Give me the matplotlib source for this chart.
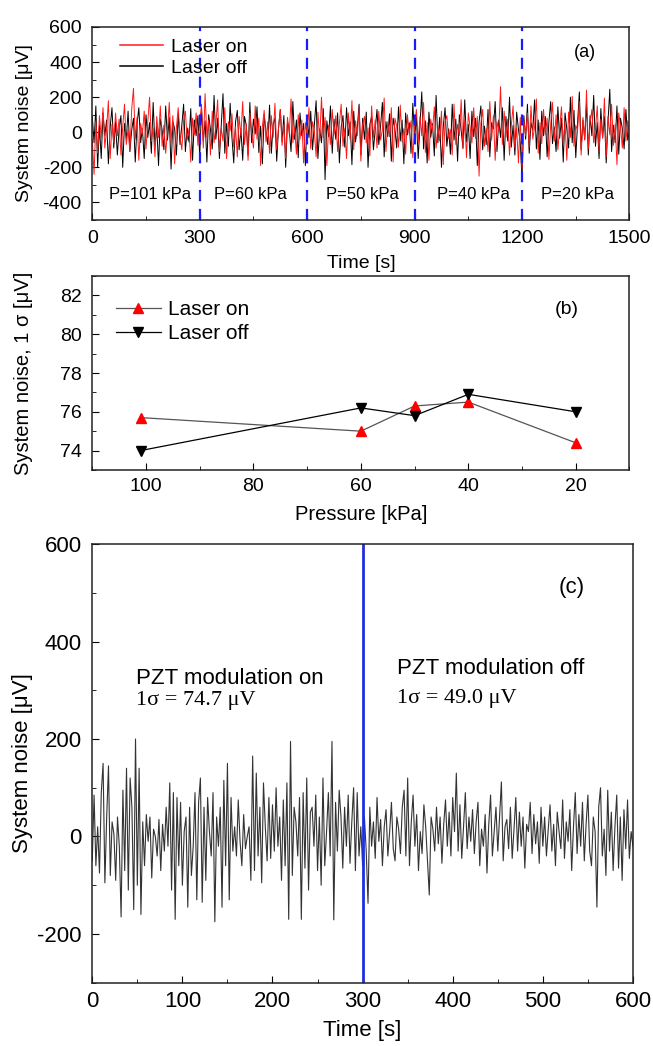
import matplotlib
matplotlib.use('Agg')
import matplotlib.pyplot as plt
from matplotlib.ticker import MultipleLocator
import numpy as np

plt.rcParams['font.family'] = ['Liberation Sans', 'DejaVu Sans']
plt.rcParams['axes.unicode_minus'] = False

# (a) noise traces, one sample every 5 s over 0..1500 s
step_a = 5
noise_on = [
    -40, -240, 60, -120, 95, -30, 140, -90, 20, 180, -150, 45, -60, 110, -20, 75, -130, 30, 160, -70,
    15, -110, 130, 250, -40, 85, -160, 50, -10, 120, -95, 60, 200, -50, 25, -140, 90, -30, 150, -80,
    40, -120, 10, 170, -60, 95, -180, 30, 140, -20, -100, 65, 120, -45, 20, -170, 80, -15, 110, -75,
    50, 160, -90, 220, -30, 70, -130, 120, -60, 40, 185, -110, 25, -50, 140, -150, 60, 10, 105, -85,
    30, -140, 90, -20, 175, -70, 45, -160, 110, 0, -90, 150, -40, 80, -190, 35, 125, -55, 60, -120,
    95, -30, 165, -100, 20, 130, -75, 45, -150, 85, -10, 190, -60, 30, -125, 100, -40, 70, -175, 55,
    -20, 140, -95, 60, 10, -140, 115, -50, 200, -30, 85, -190, 40, -70, 130, -15, 95, -110, 50, 160,
    -80, 20, -150, 110, -40, 180, -100, 65, -20, 135, -165, 45, 90, -60, 25, -135, 150, -30, 70, -90,
    120, -45, 15, 195, -110, 60, -25, 140, -170, 80, 35, -85, 155, -55, 20, -125, 100, -10, 65, -145,
    40, 130, -60, 90, -20, 170, -115, 55, -160, 75, 10, 145, -90, 30, -50, 120, -185, 60, 95, -35,
    15, -130, 160, -70, 45, -20, 185, -95, 70, -145, 110, 25, -60, 140, -35, 90, -250, 50, 130, -80,
    20, -110, 175, -45, 95, -160, 60, 10, 260, -70, 120, -30, 75, -130, 40, 150, -90, 25, -175, 85,
    -210, 65, -20, 110, -85, 150, -40, 30, 190, -120, 55, -65, 130, -15, 80, -155, 45, 170, -50, 100,
    -100, 25, 145, -70, 60, -160, 115, -30, 205, -80, 40, 10, 175, -130, 85, -45, 240, -95, 55, 130,
    -60, 20, 150, -110, 75, -35, 195, -140, 90, -15, 160, -75, 45, -185, 110, 30, -90, 140, -50, 65,
    -20,
]
noise_off = [
    90, -60, 150, -200, 40, -150, 110, -20, 70, -180, 30, 140, -90, 60, -130, 20, 95, -200, 50, -40,
    120, -110, 10, 80, -170, 45, 140, -60, 20, -150, 100, -30, 55, -120, 170, -80, 35, -190, 75, 15,
    -100, 150, -45, 85, -210, 60, 20, -130, 110, -70, 40, 160, -110, 25, -55, 135, -160, 70, -20, 95,
    -140, 130, -50, 65, -170, 100, 15, -95, 210, -40, 80, -150, 30, 220, -120, 50, -80, 165, -30, -175,
    60, 125, -100, 20, -160, 90, 40, -130, 170, -60, 75, -10, 145, -115, 35, -180, 100, 5, -70, 155,
    -120, 45, 80, -165, 25, 130, -55, 95, -200, 60, 15, -110, 175, -40, 70, -145, 110, -20, 50, -190,
    85, -30, 120, -100, 40, 180, -150, 20, -60, 135, -270, 65, -25, 150, -120, 75, -40, 110, -175, 30,
    95, -85, 140, -20, 60, -185, 120, -55, 25, 160, -130, 80, -40, 115, -200, 45, 90, -100, 15, 130,
    -70, 35, 170, -140, 60, -25, 105, -165, 80, 20, -90, 145, -50, 70, -180, 110, -15, 55, -120, 165,
    -35, 90, -150, 40, 230, -95, 65, -175, 115, -30, 50, -135, 210, -60, 85, -200, 30, 140, -80, 20,
    -125, 160, -45, 75, -165, 100, 10, -90, 185, -55, 45, -150, 120, -25, 80, -190, 60, 150, -100, 35,
    -70, 130, -140, 55, 20, 175, -110, 70, -30, 140, -160, 90, -50, 200, -85, 40, -130, 115, 15, -60,
    -270, 95, -40, 160, -120, 55, 10, 185, -95, 70, -155, 120, -20, 90, -140, 60, 175, -65, 30, -110,
    145, -35, 80, -170, 110, 20, -90, 200, -60, 125, -145, 50, 230, -100, 70, -40, 165, -130, 95, -20,
    210, -80, 55, -150, 135, -30, 90, -175, 60, 245, -110, 40, -60, 150, -125, 80, 20, -95, 130, -45,
    10,
]
boundaries = [300, 600, 900, 1200]
seg_labels = ['P=101 kPa', 'P=60 kPa', 'P=50 kPa', 'P=40 kPa', 'P=20 kPa']
seg_centers = [162, 441, 755, 1065, 1355]

# (b) 1 sigma noise vs pressure
pressure = [101, 60, 50, 40, 20]
sigma_on = [75.7, 75.0, 76.3, 76.5, 74.4]
sigma_off = [74.0, 76.2, 75.8, 76.9, 76.0]

# (c) PZT modulation on (0..298 s) / off (300..600 s), one sample every 2 s
step_c = 2
pzt_on = [
    -50, 85, -60, 20, -75, 90, 150, -95, 40, 145, -80, 30, 5, -90, 40, -20, -165, 95, -70, 140,
    -110, 120, 60, -150, 200, -100, 140, -160, 30, -60, 45, -10, 40, -85, 15, 0, -40, 35, -70, 25,
    -30, 60, -20, 110, -110, 90, -170, 80, -60, 70, -100, 10, 40, -145, 60, -80, -20, 90, -130, 70,
    120, -135, 60, -90, 80, 10, -40, 90, -175, 40, -20, 60, -145, 115, -60, 150, -130, 80, -30, 20,
    -40, 75, -10, -60, 45, -25, 0, 20, -90, 165, -70, 130, -40, 60, -95, 110, 20, -50, 80, -45,
    65, -30, 100, -20, 40, -90, 75, -60, 110, -170, 195, -80, 60, 30, -40, 80, -170, 90, -65, 120,
    -110, 50, 60, -20, 85, -70, 40, -100, 120, -60, 10, 90, -40, 195, -171, 70, -30, 95, 40, -65,
    60, -20, 85, -55, 30, 100, -70, 90, -40, 20,
]
pzt_off = [
    -60, 40, -30, -137, 60, -20, 30, -45, 80, -10, 35, -60, 20, 55, -40, 10, 70, -25, -50, 40,
    15, -35, 60, 95, -40, 120, -60, 30, 85, -20, 45, -70, 10, -35, 65, 20, -50, -120, 40, 15,
    -30, 60, -15, 40, -55, 25, 75, -20, 50, -40, 80, 10, 130, -30, 65, -45, 20, 90, -25, 40,
    -10, 55, -35, 30, 70, -60, 15, -20, 45, -75, 25, 85, -40, 10, 60, -30, 40, 112, -50, 20,
    35, -25, 60, -45, 15, 80, -30, 50, -20, 40, -65, 25, 10, 70, -35, 45, -15, 30, -55, 60,
    -20, 40, -40, 15, 65, -30, 25, -60, 50, 10, -25, 75, -45, 30, -10, 55, -70, 20, 90, -35,
    45, -20, 70, -50, 25, 85, -30, -60, 40, 10, -145, 60, 100, -40, 15, -80, 95, -30, 50, -70,
    20, 85, -65, 40, -90, 55, -25, 75, -45, 10, -20,
]

serif = ['Liberation Serif', 'DejaVu Serif']


def style_axes(ax, size, xpad, ypad):
    ax.tick_params(which='both', direction='in', top=False, right=False, labelsize=size)
    ax.tick_params(which='major', length=5)
    ax.tick_params(which='minor', length=3)
    ax.tick_params(axis='x', pad=xpad)
    ax.tick_params(axis='y', pad=ypad)
    for s in ax.spines.values():
        s.set_linewidth(1.1)
        s.set_color('#222222')


fig = plt.figure(figsize=(6.53, 10.46), dpi=100)

# ---- (a)
ax1 = fig.add_axes([0.1413, 0.7897, 0.8227, 0.1845])
t_a = np.arange(len(noise_on)) * step_a
l_off, = ax1.plot(t_a, noise_off, color='black', lw=0.7, label='Laser off')
l_on, = ax1.plot(t_a, noise_on, color='#ff1a1a', lw=0.7, label='Laser on')
for b in boundaries:
    ax1.axvline(b, color='#1a1aff', ls=(0, (5, 3.5)), lw=1.6)
for lab, xc in zip(seg_labels, seg_centers):
    ax1.text(xc, -355, lab, ha='center', va='center', fontsize=12)
ax1.text(1375, 455, '(a)', ha='center', va='center', fontsize=13)
ax1.set_xlim(0, 1500)
ax1.set_ylim(-500, 600)
ax1.set_xticks([0, 300, 600, 900, 1200, 1500])
ax1.xaxis.set_minor_locator(MultipleLocator(150))
ax1.set_yticks([-400, -200, 0, 200, 400, 600])
ax1.yaxis.set_minor_locator(MultipleLocator(100))
style_axes(ax1, 14, 7, 7.5)
ax1.set_xlabel('Time [s]', fontsize=14, labelpad=6)
ax1.set_ylabel('System noise [\u03bcV]', fontsize=14)
ax1.yaxis.set_label_coords(-0.11, 0.5)
leg1 = ax1.legend(handles=[l_on, l_off], loc='upper left', bbox_to_anchor=(0.03, 1.0),
                  frameon=False, fontsize=14, handlelength=2.2, handletextpad=0.4,
                  borderaxespad=0.2, labelspacing=0.15)
for h in leg1.legend_handles:
    h.set_linewidth(1.1)

# ---- (b)
ax2 = fig.add_axes([0.1413, 0.5507, 0.8227, 0.1854])
ax2.plot(pressure, sigma_on, color='#555555', lw=0.9, marker='^', ms=7,
         mfc='red', mec='red', label='Laser on')
ax2.plot(pressure, sigma_off, color='black', lw=0.9, marker='v', ms=7,
         mfc='black', mec='black', label='Laser off')
ax2.text(21.6, 81.25, '(b)', ha='center', va='center', fontsize=14)
ax2.set_xlim(110, 10)
ax2.set_ylim(73, 83)
ax2.set_xticks([100, 80, 60, 40, 20])
ax2.xaxis.set_minor_locator(MultipleLocator(10))
ax2.set_yticks([74, 76, 78, 80, 82])
ax2.yaxis.set_minor_locator(MultipleLocator(1))
style_axes(ax2, 14, 6, 7.5)
ax2.set_xlabel('Pressure [kPa]', fontsize=14.5, labelpad=7)
ax2.set_ylabel('System noise, 1 \u03c3 [\u03bcV]', fontsize=14.5)
ax2.yaxis.set_label_coords(-0.11, 0.5)
ax2.legend(loc='upper left', bbox_to_anchor=(0.02, 0.94), frameon=False, fontsize=15,
           handlelength=2.2, borderaxespad=0.2, labelspacing=0.25, handletextpad=0.3)

# ---- (c)
ax3 = fig.add_axes([0.1413, 0.0605, 0.8280, 0.4194])
pzt = pzt_on + pzt_off
t_c = np.arange(len(pzt)) * step_c
ax3.plot(t_c, pzt, color='#333333', lw=0.8)
ax3.axvline(300, color='#1f2fe0', lw=2)
ax3.text(48, 325, 'PZT modulation on', fontsize=16, va='center')
ax3.text(48, 280, '1\u03c3 = 74.7 \u03bcV', fontsize=16, va='center', family=serif)
ax3.text(338, 345, 'PZT modulation off', fontsize=16, va='center')
ax3.text(338, 283, '1\u03c3 = 49.0 \u03bcV', fontsize=16, va='center', family=serif)
ax3.text(532, 511, '(c)', ha='center', va='center', fontsize=16)
ax3.set_xlim(0, 600)
ax3.set_ylim(-300, 600)
ax3.set_xticks([0, 100, 200, 300, 400, 500, 600])
ax3.xaxis.set_minor_locator(MultipleLocator(50))
ax3.set_yticks([-200, 0, 200, 400, 600])
ax3.yaxis.set_minor_locator(MultipleLocator(100))
style_axes(ax3, 16, 6, 7.5)
ax3.set_xlabel('Time [s]', fontsize=16, labelpad=6)
ax3.set_ylabel('System noise [\u03bcV]', fontsize=16)
ax3.yaxis.set_label_coords(-0.11, 0.5)

fig.savefig('out.png', dpi=100)
